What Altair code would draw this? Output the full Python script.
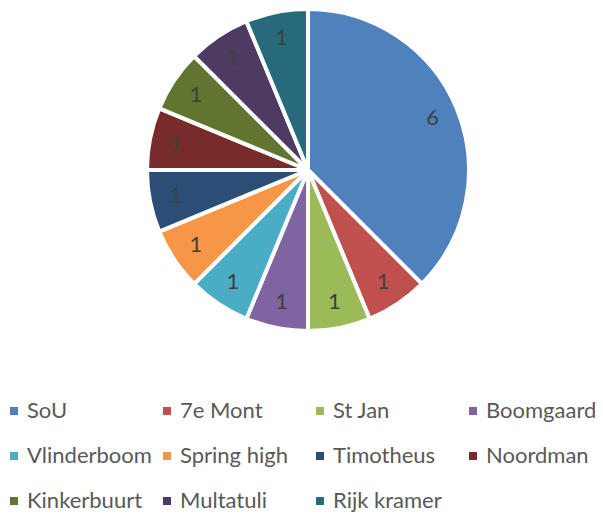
import altair as alt
import pandas as pd

categories = ["SoU", "7e Mont", "St Jan", "Boomgaard", "Vlinderboom", "Spring high",
              "Timotheus", "Noordman", "Kinkerbuurt", "Multatuli", "Rijk kramer"]
values = [6, 1, 1, 1, 1, 1, 1, 1, 1, 1, 1]
colors = ["#4F81BD", "#C0504D", "#9BBB59", "#8064A2", "#4BACC6", "#F79646",
          "#2C4D75", "#772C2A", "#5F7530", "#4D3B62", "#276A7C"]

df = pd.DataFrame({"school": categories, "count": values, "idx": list(range(len(categories)))})

FONT = "Lato"

base = alt.Chart(df).encode(
    theta=alt.Theta("count:Q", stack=True),
    order=alt.Order("idx:Q"),
    x=alt.value(300),
    y=alt.value(162),
)

pie = base.mark_arc(outerRadius=161, stroke="white", strokeWidth=4).encode(
    color=alt.Color(
        "school:N",
        scale=alt.Scale(domain=categories, range=colors),
        sort=categories,
        legend=alt.Legend(
            title=None,
            orient="none",
            legendX=-5,
            legendY=392,
            direction="horizontal",
            columns=4,
            gridAlign="all",
            symbolType="square",
            symbolSize=64,
            symbolStrokeWidth=0,
            labelFont=FONT,
            labelFontSize=22,
            labelColor="#595959",
            labelOffset=2,
            columnPadding=4,
            rowPadding=23,
            padding=0,
            labelLimit=300,
        ),
    )
)

labels = base.mark_text(radius=135, font=FONT, fontSize=22, color="#404040").encode(
    text="count:Q",
    detail="school:N",
)

chart = alt.layer(pie, labels).properties(
    width=587, height=506,
    autosize=alt.AutoSizeParams(type="none"),
    padding=0,
).configure_view(stroke=None)

chart.save("out.html", embed_options={"renderer": "svg", "actions": False})
